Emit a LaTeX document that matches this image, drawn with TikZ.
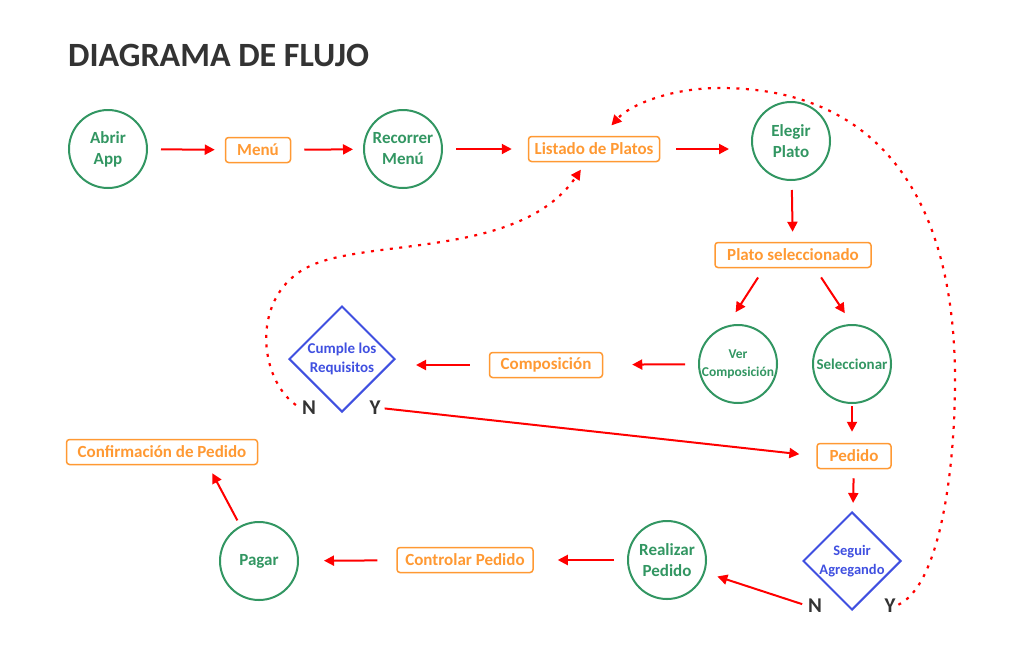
\documentclass[tikz,border=0pt]{standalone}
\usepackage{fontspec}
\setmainfont{Carlito}
\usetikzlibrary{shapes.geometric,arrows.meta}
\definecolor{cgreen}{RGB}{50,150,98}
\definecolor{corange}{RGB}{255,153,51}
\definecolor{cblue}{RGB}{64,80,224}
\definecolor{cred}{RGB}{255,0,0}
\definecolor{cgray}{RGB}{51,51,51}
\begin{document}
\begin{tikzpicture}[x=1pt,y=-1pt,
 circ/.style={circle,draw=cgreen,line width=2pt,minimum size=78pt,inner sep=0pt,text=cgreen,font=\bfseries\fontsize{17}{21}\selectfont,align=center},
 box/.style={rectangle,rounded corners=3pt,draw=corange,line width=1.5pt,minimum height=25pt,inner sep=0pt,text=corange,font=\bfseries\fontsize{17}{19}\selectfont},
 dia/.style={diamond,draw=cblue,line width=2pt,inner sep=0pt,text=cblue,align=center},
 lbl/.style={text=cgray,font=\bfseries\fontsize{21}{24}\selectfont,inner sep=0pt},
 arr/.style={draw=cred,line width=2pt,-{Triangle[length=10pt,width=10pt]},shorten <=13pt,shorten >=10pt},
 dots/.style={draw=cred,line width=2.2pt,dash pattern=on 3pt off 6.5pt,-{Triangle[length=10pt,width=10pt]}}
]
\useasboundingbox (0,0) rectangle (1024,654);
\node[anchor=base west,text=cgray,font=\bfseries\fontsize{34}{40}\selectfont,inner sep=0pt] (title) at (68,66) {DIAGRAMA DE FLUJO};

\node[circ] (abrir) at (108,149) {Abrir\\App};
\node[box,minimum width=65pt] (menu) at (258,150) {Menú};
\node[circ] (recorrer) at (403,149) {Recorrer\\Menú};
\node[box,minimum width=131pt] (listado) at (594,149) {Listado de Platos};
\node[circ] (elegir) at (791,141) {Elegir\\Plato};
\node[box,minimum width=156pt] (platosel) at (793,255) {Plato seleccionado};
\node[circ,font=\bfseries\fontsize{13.5}{18}\selectfont] (vercomp) at (738,364) {Ver\\Composición};
\node[circ,font=\bfseries\fontsize{15}{18}\selectfont] (selec) at (852,364) {Seleccionar};
\node[box,minimum width=113pt] (compo) at (546,365) {Composición};
\node[dia,minimum width=106pt,minimum height=106pt,font=\bfseries\fontsize{15}{19}\selectfont] (cumple) at (342,359) {Cumple los\\Requisitos};
\node[lbl] (n1) at (309,408) {N};
\node[lbl] (y1) at (375,408) {Y};
\node[box,minimum width=74pt] (pedido) at (854,456) {Pedido};
\node[dia,minimum width=98pt,minimum height=98pt,font=\bfseries\fontsize{14.5}{19}\selectfont] (seguir) at (852,561) {Seguir\\Agregando};
\node[lbl] (n2) at (815,606) {N};
\node[lbl] (y2) at (890,606) {Y};
\node[circ] (realizar) at (667,560) {Realizar\\Pedido};
\node[box,minimum width=136pt] (controlar) at (465,560) {Controlar Pedido};
\node[circ] (pagar) at (259,561) {Pagar};
\node[box,minimum width=191pt] (conf) at (162,452) {Confirmación de Pedido};

\draw[arr] (abrir) -- (menu);
\draw[arr] (menu) -- (recorrer);
\draw[arr,shorten >=16pt] (recorrer) -- (listado);
\draw[arr,shorten <=16pt,shorten >=22pt] (listado) -- (listado -| elegir.west);
\draw[arr,shorten <=9pt] (elegir) -- (platosel);
\draw[arr,shorten <=11pt,shorten >=14pt] ([xshift=-29pt]platosel.south) -- ([xshift=-10pt]vercomp.north);
\draw[arr,shorten <=11pt,shorten >=13pt] ([xshift=22pt]platosel.south) -- (selec.north);
\draw[arr,shorten >=29pt] (vercomp) -- (compo);
\draw[arr,shorten <=19pt,shorten >=20pt] (compo) -- (compo -| cumple.east);
\draw[arr,shorten <=2pt,shorten >=11pt] (selec) -- (selec |- pedido.north);
\draw[arr,shorten <=9pt,shorten >=9pt] (pedido) -- (seguir);
\draw[arr,shorten <=4pt,shorten >=17pt] (y1.east) -- (pedido.west);
\draw[arr,shorten <=6pt,shorten >=13pt] (n2.west) -- (realizar);
\draw[arr,shorten >=24pt] (realizar) -- (controlar);
\draw[arr,shorten <=19pt,shorten >=25pt] (controlar) -- (pagar);
\draw[arr,shorten <=6pt,shorten >=9pt] (pagar) -- ([xshift=46pt]conf.south);

\draw[dots,shorten >=9pt] ([xshift=-6pt,yshift=3pt]n1.west) .. controls (258,378) and (250,294) .. (310,266)
  .. controls (370,238) and (520,258) .. ([xshift=-8pt]listado.south);
\draw[dots,shorten <=3pt,shorten >=14pt] (y2.east) .. controls (940,585) and (955,470) .. (955,380)
  .. controls (955,200) and (880,88) .. (720,88)
  .. controls (670,88) and (630,105) .. ([xshift=8pt]listado.north);
\end{tikzpicture}
\end{document}
